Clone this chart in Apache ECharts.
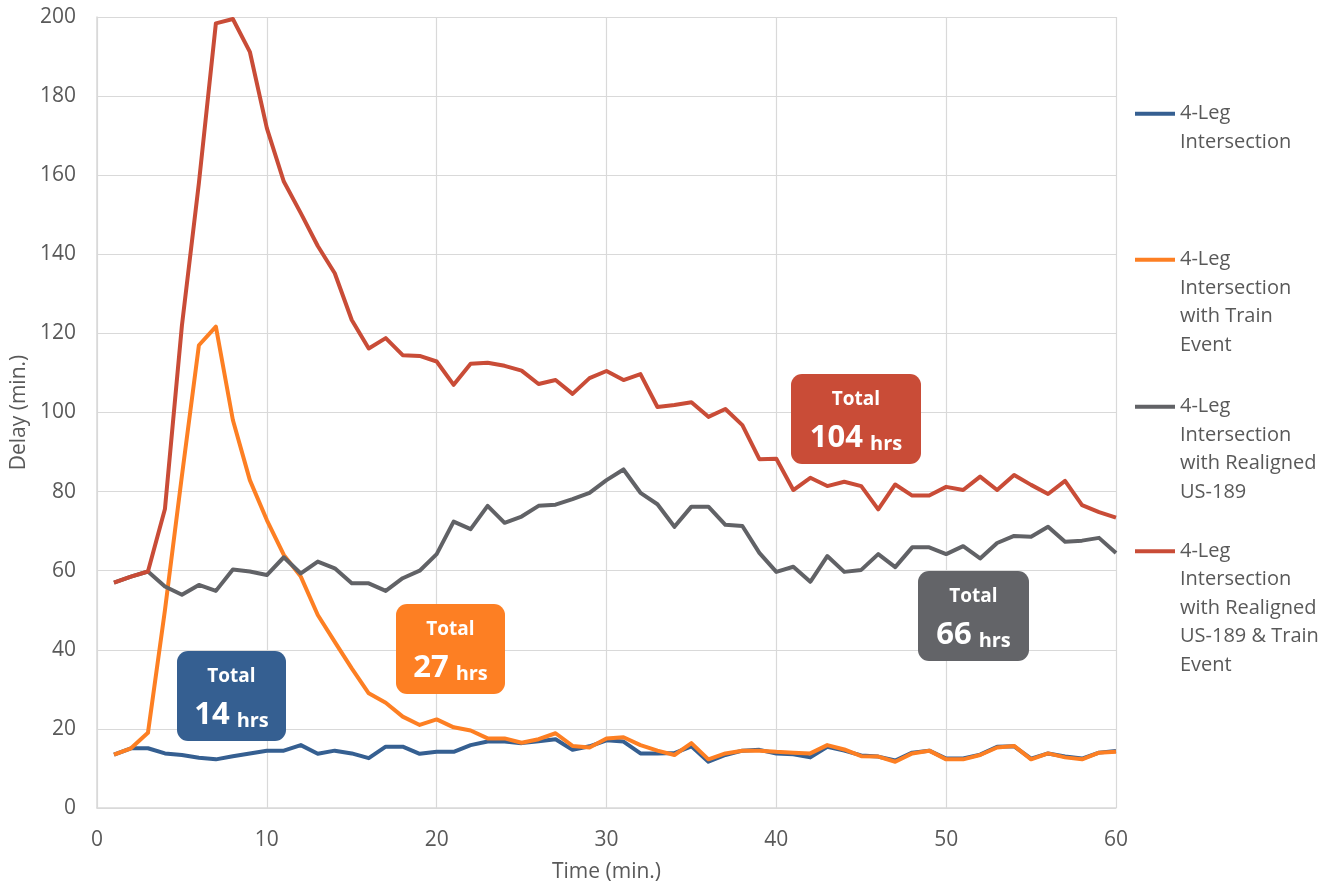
<!DOCTYPE html>
<html>
<head>
<meta charset="utf-8">
<script src="https://cdn.jsdelivr.net/npm/echarts@6/dist/echarts.min.js"></script>
<style>
html,body{margin:0;padding:0;background:#fff;}
#chart{width:1343px;height:888px;}
</style>
</head>
<body>
<div id="chart"></div>
<script>
const times = [1,2,3,4,5,6,7,8,9,10,11,12,13,14,15,16,17,18,19,20,21,22,23,24,25,26,27,28,29,30,31,32,33,34,35,36,37,38,39,40,41,42,43,44,45,46,47,48,49,50,51,52,53,54,55,56,57,58,59,60];

const fourLeg = [13.5,15.1,15.1,13.8,13.4,12.7,12.3,13.1,13.8,14.5,14.5,15.9,13.7,14.5,13.8,12.6,15.5,15.5,13.7,14.2,14.2,15.9,16.8,16.8,16.4,16.9,17.4,14.7,15.6,17.1,16.8,13.8,13.8,13.9,15.6,11.7,13.4,14.5,14.7,13.8,13.6,12.8,15.5,14.5,13.3,13.0,12.0,14.0,14.5,12.5,12.5,13.5,15.5,15.6,12.5,13.8,13.0,12.5,14.0,14.4];

const fourLegTrain = [13.5,15.1,19.0,50.0,84.0,117.0,121.7,98.1,82.9,72.8,64.0,58.5,48.8,42.0,35.3,29.0,26.6,23.1,21.0,22.4,20.4,19.6,17.6,17.6,16.5,17.4,18.9,15.7,15.3,17.6,17.9,15.9,14.5,13.4,16.4,12.3,13.8,14.5,14.5,14.2,14.0,13.8,15.9,14.8,13.1,13.0,11.7,13.8,14.5,12.3,12.3,13.4,15.3,15.7,12.3,13.8,12.8,12.3,14.0,14.2];

const fourLegRealigned = [57.0,58.5,59.8,56.0,53.9,56.4,54.9,60.3,59.8,58.9,63.4,59.3,62.3,60.6,56.8,56.8,54.9,58.1,60.0,64.2,72.4,70.5,76.4,72.1,73.7,76.4,76.7,78.1,79.7,82.9,85.6,79.7,76.8,71.1,76.2,76.2,71.6,71.3,64.5,59.7,61.0,57.2,63.7,59.7,60.2,64.2,60.9,65.9,65.9,64.2,66.2,63.1,67.0,68.8,68.6,71.1,67.3,67.6,68.3,64.5];

const fourLegRealignedTrain = [57.0,58.5,59.8,75.6,122.0,158.0,198.4,199.5,191.2,171.9,158.4,150.4,142.1,135.2,123.4,116.2,118.8,114.5,114.3,112.9,107.0,112.3,112.6,111.8,110.6,107.2,108.2,104.7,108.7,110.5,108.2,109.7,101.4,101.9,102.6,98.9,100.9,96.8,88.2,88.3,80.4,83.5,81.4,82.5,81.4,75.5,81.8,79.0,79.0,81.2,80.4,83.8,80.4,84.2,81.7,79.4,82.7,76.6,74.8,73.4];

const seriesNames = ['4-Leg Intersection','4-Leg Intersection with Train Event','4-Leg Intersection with Realigned US-189','4-Leg Intersection with Realigned US-189 & Train Event'];
const legendLines = [
  ['4-Leg','Intersection'],
  ['4-Leg','Intersection','with Train','Event'],
  ['4-Leg','Intersection','with Realigned','US-189'],
  ['4-Leg','Intersection','with Realigned','US-189 & Train','Event']
];
const seriesColors = ['#355f91','#fd7f23','#616266','#c94c37'];

const yTicks = {min:0, max:200, interval:20};
const xTicks = {min:0, max:60, interval:10};

// Annotation boxes
const totalsNumbers = ['14','27','66','104'];
const totalsAnchorsX = [7.9, 20.8, 51.6, 44.7];
const totalsAnchorsY = [28.3, 40.2, 48.5, 98.4];
const totalsColors = ['#355f91','#fd7f23','#636468','#c94c37'];
const totalsWidths = [109, 109, 111, 130];

const FONT = '"Open Sans", "Noto Sans", sans-serif';
const TXT = '#595959';

const dataSets = [fourLeg, fourLegTrain, fourLegRealigned, fourLegRealignedTrain];

const chart = echarts.init(document.getElementById('chart'), null, {renderer:'canvas'});

const legendTops = [71, 160, 307, 423];
const legends = seriesNames.map((n,i)=>{
  const lines = legendLines[i];
  const pad = new Array(lines.length-1).fill('');
  const txt = pad.concat(lines).join('\n');
  return {
    data:[n], orient:'vertical', left:1135, top:legendTops[i], padding:0,
    icon:'rect', itemWidth:40, itemHeight:4, selectedMode:false,
    formatter: ()=>txt,
    textStyle:{fontFamily:FONT, fontSize:20, lineHeight:28.5, color:TXT}
  };
});

const option = {
  backgroundColor:'#ffffff',
  animation:false,
  textStyle:{fontFamily:FONT},
  grid:{left:97, right:227, top:17, bottom:80, containLabel:false},
  legend: legends,
  xAxis:{
    type:'value', min:xTicks.min, max:xTicks.max, interval:xTicks.interval,
    name:'Time (min.)', nameLocation:'middle', nameGap:54,
    nameTextStyle:{fontFamily:FONT, fontSize:21, color:TXT},
    axisLine:{show:true, lineStyle:{color:'#d9d9d9', width:1.5}},
    axisTick:{show:false},
    axisLabel:{fontFamily:FONT, fontSize:21, color:TXT, margin:22},
    splitLine:{show:true, lineStyle:{color:'#d9d9d9', width:1.2}}
  },
  yAxis:{
    type:'value', min:yTicks.min, max:yTicks.max, interval:yTicks.interval,
    name:'Delay (min.)', nameLocation:'middle', nameGap:65,
    nameTextStyle:{fontFamily:FONT, fontSize:21, color:TXT},
    axisLine:{show:true, lineStyle:{color:'#d9d9d9', width:1.5}},
    axisTick:{show:false},
    axisLabel:{fontFamily:FONT, fontSize:21, color:TXT, margin:21},
    splitLine:{show:true, lineStyle:{color:'#d9d9d9', width:1.2}}
  },
  series: seriesNames.map((n,i)=>({
    name:n, type:'line', showSymbol:false, symbol:'none',
    data: times.map((t,k)=>[t, dataSets[i][k]]),
    lineStyle:{color:seriesColors[i], width:4, join:'round'},
    itemStyle:{color:seriesColors[i]},
    z: 2+i
  }))
};
chart.setOption(option);

const graphics = totalsNumbers.map((num,i)=>{
  const p = chart.convertToPixel({gridIndex:0}, [totalsAnchorsX[i], totalsAnchorsY[i]]);
  const w = totalsWidths[i], h = 90;
  const x0 = Math.round(p[0]-w/2), y0 = Math.round(p[1]-h/2);
  return {
    type:'group', x:x0, y:y0, z:100,
    children:[
      {type:'rect', shape:{x:0,y:0,width:w,height:h,r:11}, style:{fill:totalsColors[i]}},
      {type:'text', style:{x:w/2, y:26, text:'Total', align:'center', verticalAlign:'middle',
        fill:'#ffffff', font:'bold 19px "Open Sans", sans-serif'}},
      {type:'text', style:{x:w/2, y:62, text:'{n|'+num+'}{h|hrs}', align:'center', verticalAlign:'middle',
        rich:{
          n:{fontFamily:FONT, fontWeight:'bold', fontSize:31, fill:'#ffffff', color:'#ffffff', verticalAlign:'bottom', lineHeight:36},
          h:{fontFamily:FONT, fontWeight:'bold', fontSize:20, fill:'#ffffff', color:'#ffffff', verticalAlign:'bottom', lineHeight:30, padding:[0,0,0,7]}
        }}}
    ]
  };
});
chart.setOption({graphic: graphics});
</script>
</body>
</html>
